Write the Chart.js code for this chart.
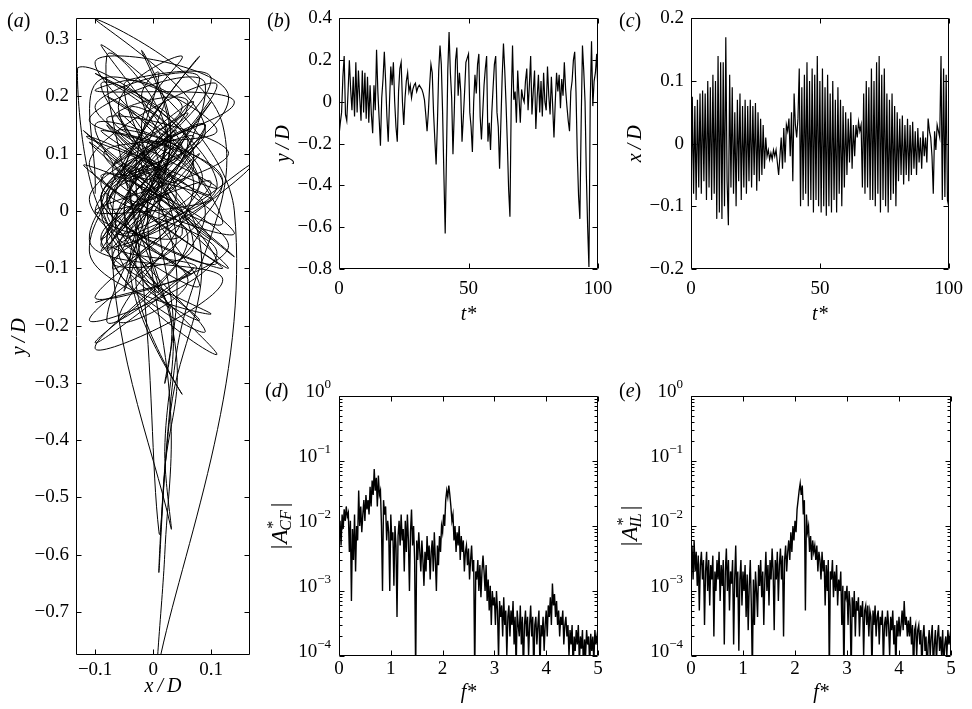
<!DOCTYPE html>
<html>
<head>
<meta charset="utf-8">
<script src="https://cdn.jsdelivr.net/npm/chart.js@4/dist/chart.umd.min.js"></script>
<style>
  html, body { margin: 0; padding: 0; background: #fff; }
  body { width: 972px; height: 709px; position: relative; overflow: hidden;
         font-family: 'Liberation Serif', 'Times New Roman', serif; }
  canvas { position: absolute; }
  .lbl { position: absolute; font-size: 20px; line-height: 20px; color: #000; }
</style>
</head>
<body>
<canvas id="ca" width="262" height="709" style="left:0;top:0"></canvas>
<canvas id="cb" width="360" height="330" style="left:262px;top:0"></canvas>
<canvas id="cc" width="360" height="330" style="left:612px;top:0"></canvas>
<canvas id="cd" width="360" height="379" style="left:262px;top:330px"></canvas>
<canvas id="ce" width="360" height="379" style="left:612px;top:330px"></canvas>
<div class="lbl" style="left:7px;top:10px">(<i>a</i>)</div>
<div class="lbl" style="left:267px;top:10px">(<i>b</i>)</div>
<div class="lbl" style="left:619px;top:10px">(<i>c</i>)</div>
<div class="lbl" style="left:265px;top:380px">(<i>d</i>)</div>
<div class="lbl" style="left:619px;top:380px">(<i>e</i>)</div>
<script>
// --- datos ---

// muestreo temporal de y/D y x/D (t* = i * tStep)
const tStep = 0.5;

// desplazamiento transversal y/D
const yD = [
  -0.16, -0.10, -0.05, 0.12, 0.22, -0.06, -0.09, 0.05, 0.20, 0.06,
  -0.04, 0.12, -0.07, 0.19, -0.05, 0.15, 0.02, -0.09, 0.15, -0.05,
  0.14, -0.08, 0.12, -0.10, 0.08, -0.06, -0.15, 0.08, -0.04, 0.25,
  0.05, -0.08, -0.21, 0.02, 0.11, 0.24, 0.10, -0.07, -0.19, 0.00,
  0.17, 0.08, 0.19, 0.00, -0.12, -0.19, 0.05, 0.16, 0.19, 0.00,
  -0.11, 0.02, 0.10, 0.14, 0.05, 0.08, 0.02, 0.06, 0.08, 0.09,
  0.05, 0.07, 0.08, 0.07, 0.06, 0.04, 0.01, -0.06, -0.14, -0.05,
  0.08, 0.18, 0.14, -0.05, -0.18, -0.30, -0.10, 0.15, 0.27, 0.18,
  -0.05, -0.35, -0.63, -0.25, 0.15, 0.335, 0.14, 0.02, -0.25, -0.05,
  0.20, 0.26, 0.03, 0.14, 0.05, -0.19, -0.075, 0.05, 0.19, 0.21,
  0.23, -0.05, -0.12, -0.24, 0.00, 0.13, 0.04, 0.18, 0.23, -0.07,
  -0.18, -0.05, 0.08, 0.16, 0.22, -0.19, -0.10, -0.23, -0.05, 0.07,
  0.18, 0.22, -0.05, -0.12, -0.32, -0.10, 0.12, 0.28, 0.15, -0.01,
  -0.20, -0.42, -0.55, 0.00, 0.27, 0.01, 0.05, -0.10, 0.15, 0.02,
  -0.10, 0.06, 0.02, 0.00, 0.10, 0.16, -0.04, 0.08, 0.22, -0.06,
  0.05, 0.15, -0.13, 0.02, 0.13, -0.05, 0.10, -0.07, 0.14, 0.00,
  -0.04, 0.17, 0.03, -0.06, 0.12, -0.02, -0.17, 0.00, 0.14, 0.05,
  0.13, -0.03, 0.11, 0.03, 0.19, 0.06, -0.02, -0.09, -0.14, 0.05,
  0.10, 0.20, 0.24, 0.05, -0.25, -0.45, -0.56, -0.10, 0.27, 0.15,
  0.00, -0.35, -0.60, -0.79, 0.00, 0.29, -0.02, 0.10, 0.14, 0.23,
  0.03
];

// desplazamiento en linea x/D
const xD = [
  -0.10, 0.075, -0.08, 0.06, -0.09, 0.07, -0.07, 0.08, -0.08, 0.085,
  -0.06, 0.08, -0.09, 0.10, -0.07, 0.09, -0.09, 0.11, -0.08, 0.10,
  -0.12, 0.14, -0.11, 0.13, -0.12, 0.13, -0.10, 0.17, -0.06, -0.13,
  0.11, -0.07, 0.09, -0.08, 0.05, -0.10, 0.07, -0.06, 0.08, -0.09,
  0.06, -0.07, 0.07, -0.08, 0.06, -0.06, 0.07, -0.07, 0.06, -0.05,
  0.065, -0.075, 0.05, -0.06, 0.04, -0.05, 0.03, -0.04, 0.01, -0.02,
  -0.01, -0.025, -0.015, -0.025, -0.01, -0.02, -0.01, -0.03, -0.05, -0.02,
  0.01, -0.04, 0.025, -0.03, 0.03, 0.02, 0.04, -0.02, 0.05, -0.06,
  0.08, 0.03, 0.01, 0.04, 0.12, -0.10, 0.09, -0.09, 0.11, -0.08,
  0.13, -0.10, 0.10, -0.09, 0.12, -0.11, 0.11, -0.09, 0.14, -0.10,
  0.10, -0.11, 0.12, -0.10, 0.09, -0.115, 0.11, -0.10, 0.08, -0.11,
  0.10, -0.09, 0.07, -0.11, 0.09, -0.08, 0.07, -0.10, 0.06, -0.07,
  0.05, -0.05, 0.04, -0.03, 0.05, -0.04, 0.03, -0.02, 0.03, 0.01,
  0.035, 0.02, 0.03, -0.07, 0.08, -0.08, 0.10, -0.07, 0.09, -0.09,
  0.12, -0.09, 0.10, -0.10, 0.13, -0.08, 0.14, -0.11, 0.11, -0.09,
  0.12, -0.10, 0.08, -0.11, 0.07, -0.09, 0.08, -0.08, 0.06, -0.10,
  0.05, -0.06, 0.04, -0.05, 0.045, -0.065, 0.03, -0.05, 0.04, -0.06,
  0.03, -0.05, 0.035, -0.04, 0.02, -0.05, 0.025, -0.03, 0.01, -0.04,
  0.02, -0.02, 0.01, -0.03, 0.04, 0.02, 0.01, -0.02, -0.08, 0.02,
  -0.01, 0.03, 0.02, 0.01, 0.14, -0.09, 0.12, -0.085, 0.11, -0.09,
  -0.10
];

// espectros (f* = i * fStep)
const fStep = 0.02;

const ampCF = [
  8e-3, 1.2e-2, 5e-3, 1.5e-2, 9e-3, 1.8e-2, 1.2e-2, 2e-2, 1.4e-2, 1.6e-2,
  4e-3, 1.2e-2, 7e-4, 9e-3, 3e-3, 1.5e-2, 2e-3, 1e-2, 6e-3, 3.5e-2,
  1e-2, 2e-2, 8e-3, 1.5e-2, 2.5e-2, 1.2e-2, 3e-2, 1.8e-2, 2.5e-2, 1.5e-2,
  4e-2, 2e-2, 5e-2, 3e-2, 7.5e-2, 3.5e-2, 5.5e-2, 2e-2, 6e-2, 3e-2,
  3.5e-2, 1e-2, 1e-3, 2.5e-2, 1.5e-2, 2e-2, 6e-3, 1.2e-2, 8e-3, 1e-3,
  1.5e-2, 6e-3, 8e-3, 1.2e-3, 1e-2, 5e-3, 4e-4, 7e-3, 1.2e-2, 5e-3,
  1.5e-2, 6e-3, 9e-3, 2e-3, 1.2e-2, 4e-3, 1.5e-2, 6e-3, 1e-3, 8e-3,
  1.8e-2, 5e-3, 1e-2, 3e-3, 5e-5, 6e-3, 3e-3, 8e-3, 4e-3, 2e-3,
  6e-3, 3e-3, 1.2e-3, 4e-3, 2e-3, 7e-3, 3e-3, 5e-3, 1.5e-3, 4e-3,
  6e-3, 2e-3, 8e-3, 3e-3, 1e-3, 5e-3, 2.5e-3, 7e-3, 4e-3, 1e-2,
  8e-3, 1.5e-2, 1e-2, 2.5e-2, 3.5e-2, 2.8e-2, 4.2e-2, 3e-2, 2e-2, 1.2e-2,
  1.5e-2, 6e-3, 1e-2, 4e-3, 8e-3, 5e-3, 1e-2, 3e-3, 7e-3, 4e-3,
  6e-3, 2e-3, 4e-3, 5e-3, 2.5e-3, 4.5e-3, 1.5e-3, 3e-3, 5e-3, 2e-3,
  3e-3, 5e-5, 2e-3, 1.5e-3, 3e-3, 1e-3, 2.5e-3, 8e-4, 2e-3, 3.5e-3,
  2e-3, 1e-3, 2.5e-3, 7e-4, 1.5e-3, 5e-4, 1.2e-3, 3e-4, 1e-3, 6e-4,
  8e-4, 3e-4, 1e-3, 5e-4, 9e-5, 7e-4, 4e-4, 6e-4, 2e-4, 8e-4,
  3e-4, 5e-4, 1e-4, 4e-4, 6e-4, 2e-4, 5e-4, 3e-4, 7e-4, 1.5e-4,
  4e-4, 6e-5, 5e-4, 3e-4, 2e-4, 6e-4, 1.5e-4, 4e-4, 5e-5, 3e-4,
  5e-4, 2e-4, 4e-4, 1e-4, 3e-4, 6e-4, 2e-4, 4e-4, 5e-5, 3e-4,
  4e-4, 1.5e-4, 3e-4, 5e-4, 6e-5, 3e-4, 2e-4, 4e-4, 1.2e-4, 3e-4,
  5e-4, 2e-4, 6e-4, 4e-4, 8e-4, 3e-4, 1.3e-3, 6e-4, 9e-4, 4e-4,
  7e-4, 3e-4, 5e-4, 2e-4, 4e-4, 3e-4, 5e-4, 1.5e-4, 3e-4, 4e-4,
  2e-4, 3e-4, 1e-4, 2.5e-4, 1.5e-4, 3e-4, 6e-5, 2e-4, 1.2e-4, 2.5e-4,
  1.5e-4, 3e-4, 8e-5, 2e-4, 1.3e-4, 2.5e-4, 6e-5, 1.8e-4, 1e-4, 2.5e-4,
  1.5e-4, 2e-4, 7e-5, 2.2e-4, 1.2e-4, 2e-4, 8e-5, 2.5e-4, 1.5e-4, 2e-4,
  1.5e-4
];

const ampIL = [
  3e-3, 5e-3, 1.5e-3, 6e-3, 2e-3, 4e-3, 1.2e-3, 3.5e-3, 5e-4, 2.5e-3,
  4e-3, 1.5e-3, 3e-3, 3e-4, 2e-3, 4e-3, 1e-3, 3e-3, 6e-4, 2.5e-3,
  1.5e-3, 3.5e-3, 2e-4, 2e-3, 1e-3, 3e-3, 1.5e-3, 4e-3, 7e-4, 2.5e-3,
  1.2e-3, 3e-3, 1.5e-4, 2e-3, 4.5e-3, 1e-3, 3e-3, 5e-4, 2e-3, 1.3e-3,
  3e-3, 1.5e-4, 1.5e-3, 5e-3, 8e-4, 2e-3, 1.2e-4, 1.5e-3, 3e-3, 6e-4,
  2e-3, 1e-3, 2.5e-3, 4e-4, 1.8e-3, 2.5e-4, 1.2e-3, 3e-3, 6e-4, 5e-5,
  1.5e-3, 3e-4, 2e-3, 1e-3, 4e-4, 2.5e-3, 1.2e-3, 3e-3, 8e-4, 2e-3,
  3e-4, 1.5e-3, 4e-3, 1e-3, 2.5e-3, 6e-4, 3e-3, 1.5e-3, 4.5e-3, 2e-3,
  2.5e-4, 3e-3, 1.5e-3, 4e-3, 7e-4, 2.5e-3, 4.5e-3, 1.5e-3, 3.5e-3, 2e-4,
  3e-3, 5e-3, 2e-3, 4e-3, 6e-3, 3e-3, 8e-3, 4e-3, 1e-2, 6e-3,
  1.2e-2, 8e-3, 1.8e-2, 2.5e-2, 3.5e-2, 4.5e-2, 3e-2, 4.2e-2, 1.5e-2, 2.5e-2,
  5e-4, 1.5e-2, 8e-3, 1e-2, 4e-3, 7e-3, 3e-3, 6e-3, 4e-3, 5e-3,
  3e-3, 5e-3, 2e-3, 4e-3, 3e-3, 1.5e-3, 4e-3, 2e-3, 3e-3, 6e-4,
  2.5e-3, 1e-3, 3e-3, 5e-5, 2e-3, 1.5e-3, 3e-3, 8e-4, 2e-3, 1e-3,
  2.5e-3, 6e-4, 1.5e-3, 1e-3, 2e-3, 3e-4, 1.2e-3, 5e-5, 1e-3, 8e-4,
  1.2e-3, 3e-4, 1e-3, 6e-4, 5e-5, 8e-4, 4e-4, 1e-3, 2e-4, 7e-4,
  5e-4, 8e-4, 2e-4, 6e-4, 4e-4, 7e-4, 1e-4, 5e-4, 6e-4, 3e-4,
  6e-4, 2e-4, 5e-4, 4e-4, 6e-5, 5e-4, 3e-4, 6e-4, 2e-4, 4e-4,
  5e-4, 1.5e-4, 4e-4, 3e-4, 5e-4, 7e-5, 3e-4, 4e-4, 2e-4, 5e-4,
  3e-4, 1e-4, 4e-4, 2.5e-4, 5e-4, 1.5e-4, 3e-4, 6e-5, 3.5e-4, 2e-4,
  4e-4, 2e-4, 3e-4, 5e-4, 2.5e-4, 7e-4, 3e-4, 4e-4, 2e-4, 3.5e-4,
  2e-4, 4e-4, 1.5e-4, 3e-4, 5e-5, 2.5e-4, 3e-4, 1e-4, 2.5e-4, 3e-4,
  1.5e-4, 2.5e-4, 6e-5, 2e-4, 3e-4, 1.2e-4, 2e-4, 5e-5, 1.5e-4, 2.5e-4,
  1e-4, 2e-4, 3e-4, 6e-5, 1.5e-4, 2.5e-4, 8e-5, 2e-4, 3e-4, 1.2e-4,
  2e-4, 1e-4, 2.5e-4, 6e-5, 1.5e-4, 2e-4, 1e-4, 2.5e-4, 1.5e-4, 2e-4,
  1.5e-4
];

// marcas de los ejes
const ticksOrbitX = [-0.1, 0, 0.1];
const ticksOrbitY = [-0.7, -0.6, -0.5, -0.4, -0.3, -0.2, -0.1, 0, 0.1, 0.2, 0.3];
const ticksTime = [0, 50, 100];
const ticksYD = [-0.8, -0.6, -0.4, -0.2, 0, 0.2, 0.4];
const ticksXD = [-0.2, -0.1, 0, 0.1, 0.2];
const ticksFreq = [0, 1, 2, 3, 4, 5];
const ticksLog = [1e-4, 1e-3, 1e-2, 1e-1, 1];
const ticksLogExp = ['\u22124', '\u22123', '\u22122', '\u22121', '0'];

// --- estilo ---
const SERIF = "'Liberation Serif', 'Times New Roman', serif";
Chart.defaults.font.family = SERIF;
Chart.defaults.font.size = 19;
Chart.defaults.color = '#000';

function fmtTick(v) {
  return v === 0 ? '0' : String(v).replace('-', '\u2212');
}

// etiqueta |A*_sub| girada
function drawAmpTitle(ctx, cx, cy, sub) {
  ctx.save();
  ctx.translate(cx, cy);
  ctx.rotate(-Math.PI / 2);
  ctx.fillStyle = '#000';
  ctx.textAlign = 'left';
  ctx.textBaseline = 'alphabetic';
  const big = '23px ' + SERIF, bigI = 'italic 23px ' + SERIF;
  const small = '16px ' + SERIF, smallI = 'italic 16px ' + SERIF;
  ctx.font = big; const wBar = ctx.measureText('|').width;
  ctx.font = bigI; const wA = ctx.measureText('A').width;
  ctx.font = small; const wStar = ctx.measureText('*').width;
  ctx.font = smallI; const wSub = ctx.measureText(sub).width;
  const wS = Math.max(wStar, wSub - 2);
  const total = 2 * wBar + wA + wS + 5;
  const base = 8;
  let x = -total / 2;
  ctx.font = big; ctx.fillText('|', x, base); x += wBar + 1;
  ctx.font = bigI; ctx.fillText('A', x, base); x += wA + 1;
  ctx.font = small; ctx.fillText('*', x, base - 9);
  ctx.font = smallI; ctx.fillText(sub, x - 2, base + 4);
  x += wS + 3;
  ctx.font = big; ctx.fillText('|', x, base);
  ctx.restore();
}

// caja con marcas interiores, al estilo MATLAB
const framePlugin = {
  id: 'frame',
  afterDraw(chart, args, opts) {
    const { ctx, chartArea: a } = chart;
    const xs = chart.scales.x, ys = chart.scales.y;
    const L = Math.round(a.left) + 0.5, R = Math.round(a.right) - 0.5;
    const T = Math.round(a.top) + 0.5, B = Math.round(a.bottom) - 0.5;
    ctx.save();
    ctx.strokeStyle = '#000';
    ctx.lineWidth = 1;
    ctx.beginPath();
    ctx.rect(L, T, R - L, B - T);
    xs.ticks.forEach(t => {
      const p = Math.round(xs.getPixelForValue(t.value)) + 0.5;
      ctx.moveTo(p, B); ctx.lineTo(p, B - 5);
      ctx.moveTo(p, T); ctx.lineTo(p, T + 5);
    });
    ys.ticks.forEach(t => {
      const p = Math.round(ys.getPixelForValue(t.value)) + 0.5;
      ctx.moveTo(L, p); ctx.lineTo(L + 5, p);
      ctx.moveTo(R, p); ctx.lineTo(R - 5, p);
    });
    if (opts.log) {
      for (let d = -4; d < 0; d++) {
        for (let k = 2; k < 10; k++) {
          const p = Math.round(ys.getPixelForValue(k * Math.pow(10, d))) + 0.5;
          ctx.moveTo(L, p); ctx.lineTo(L + 3, p);
          ctx.moveTo(R, p); ctx.lineTo(R - 3, p);
        }
      }
    }
    ctx.stroke();

    if (opts.log) {
      ctx.fillStyle = '#000';
      ctx.textAlign = 'left';
      ctx.textBaseline = 'alphabetic';
      ys.ticks.forEach((t, i) => {
        const p = ys.getPixelForValue(t.value);
        const ex = ticksLogExp[i];
        ctx.font = '13px ' + SERIF; const we = ctx.measureText(ex).width;
        ctx.font = '19px ' + SERIF; const wt = ctx.measureText('10').width;
        const x0 = a.left - 8 - we - wt;
        ctx.fillText('10', x0, p + 1);
        ctx.font = '13px ' + SERIF;
        ctx.fillText(ex, x0 + wt, p - 8);
      });
    }
    if (opts.ampSub) drawAmpTitle(ctx, 17, (a.top + a.bottom) / 2, opts.ampSub);
    ctx.restore();
  }
};

function axis(o) {
  return {
    type: o.type || 'linear',
    min: o.min,
    max: o.max,
    afterBuildTicks: s => { s.ticks = o.ticks.map(v => ({ value: v })); },
    afterFit: s => {
      if (o.w != null) s.width = o.w;
      if (o.h != null) s.height = o.h;
    },
    grid: { display: false, drawTicks: false },
    border: { display: false },
    ticks: {
      display: o.labels !== false,
      padding: o.pad,
      autoSkip: false,
      maxRotation: 0,
      callback: v => fmtTick(v)
    },
    title: o.title
      ? { display: true, text: o.title, font: { style: 'italic', size: 20 },
          padding: { top: o.tp, bottom: o.tp } }
      : { display: false }
  };
}

function makeChart(id, points, xAxis, yAxis, pad, frame, line) {
  return new Chart(document.getElementById(id), {
    type: 'line',
    data: {
      datasets: [{
        data: points,
        borderColor: '#000',
        borderWidth: line.width,
        pointRadius: 0,
        tension: line.tension,
        fill: false
      }]
    },
    options: {
      responsive: false,
      animation: false,
      events: [],
      layout: { padding: { top: pad.top, right: pad.right, left: 0, bottom: 0 } },
      plugins: { legend: { display: false }, tooltip: { enabled: false }, frame: frame },
      scales: { x: xAxis, y: yAxis }
    },
    plugins: [framePlugin]
  });
}

const seriesT = arr => arr.map((v, i) => ({ x: i * tStep, y: v }));
const seriesF = arr => arr.map((v, i) => ({ x: i * fStep, y: v }));
const orbit = xD.map((v, i) => ({ x: v, y: yD[i] }));

const TH = '\u2009';

// (a) orbita
makeChart('ca', orbit,
  axis({ min: -0.133, max: 0.167, ticks: ticksOrbitX, h: 54, pad: 4, title: 'x' + TH + '/' + TH + 'D', tp: 10 }),
  axis({ min: -0.775, max: 0.336, ticks: ticksOrbitY, w: 76, pad: 7, title: 'y' + TH + '/' + TH + 'D', tp: 8 }),
  { top: 11, right: 12 }, {}, { width: 1, tension: 0.4 });

// (b) y/D en el tiempo
makeChart('cb', seriesT(yD),
  axis({ min: 0, max: 100, ticks: ticksTime, h: 61, pad: 9, title: 't*', tp: 3 }),
  axis({ min: -0.8, max: 0.4, ticks: ticksYD, w: 77, pad: 7, title: 'y' + TH + '/' + TH + 'D', tp: 10 }),
  { top: 11, right: 24 }, {}, { width: 1.2, tension: 0 });

// (c) x/D en el tiempo
makeChart('cc', seriesT(xD),
  axis({ min: 0, max: 100, ticks: ticksTime, h: 61, pad: 9, title: 't*', tp: 3 }),
  axis({ min: -0.2, max: 0.2, ticks: ticksXD, w: 79, pad: 7, title: 'x' + TH + '/' + TH + 'D', tp: 12 }),
  { top: 11, right: 21 }, {}, { width: 1.2, tension: 0 });

// (d) espectro transversal
makeChart('cd', seriesF(ampCF),
  axis({ min: 0, max: 5, ticks: ticksFreq, h: 53, pad: 2, title: 'f*', tp: 4 }),
  axis({ type: 'logarithmic', min: 1e-4, max: 1, ticks: ticksLog, w: 77, labels: false }),
  { top: 66, right: 24 }, { log: true, ampSub: 'CF' }, { width: 1.4, tension: 0 });

// (e) espectro en linea
makeChart('ce', seriesF(ampIL),
  axis({ min: 0, max: 5, ticks: ticksFreq, h: 53, pad: 2, title: 'f*', tp: 4 }),
  axis({ type: 'logarithmic', min: 1e-4, max: 1, ticks: ticksLog, w: 79, labels: false }),
  { top: 66, right: 21 }, { log: true, ampSub: 'IL' }, { width: 1.4, tension: 0 });
</script>
</body>
</html>
